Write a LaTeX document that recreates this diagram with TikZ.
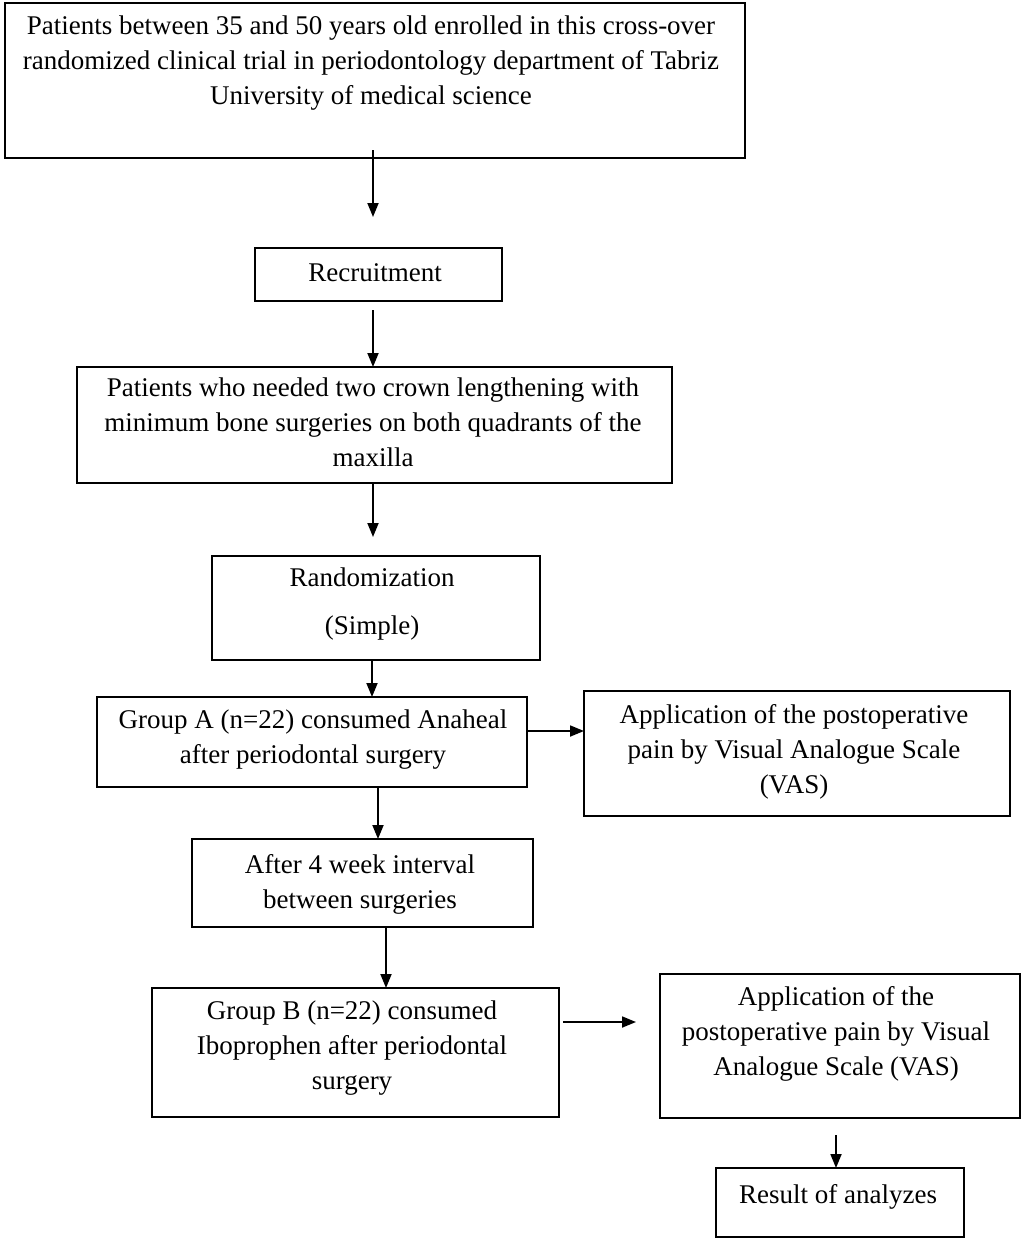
\documentclass[tikz,border=0pt]{standalone}
\usepackage{fontspec}
\setmainfont{Liberation Serif}
\usetikzlibrary{arrows.meta}
\begin{document}
\begin{tikzpicture}[x=1pt,y=-1pt,
  boxn/.style={draw, line width=2.2pt, inner sep=0pt, outer sep=0pt, anchor=north west},
  txt/.style={align=center, font=\fontsize{27}{35}\selectfont, inner sep=0pt},
  arr/.style={line width=1.8pt, -{Triangle[length=14pt,width=11pt]}}]
\useasboundingbox (0,0) rectangle (1022,1239);
\fill[white] (0,0) rectangle (1022,1239);
% boxes
\node[boxn, minimum width=740pt, minimum height=155pt] (b1) at (5,3) {};
\node[boxn, minimum width=247pt, minimum height=53pt] (b2) at (255,248) {};
\node[boxn, minimum width=595pt, minimum height=116pt] (b3) at (77,367) {};
\node[boxn, minimum width=328pt, minimum height=104pt] (b4) at (212,556) {};
\node[boxn, minimum width=430pt, minimum height=90pt] (b5) at (97,697) {};
\node[boxn, minimum width=426pt, minimum height=125pt] (b6) at (584,691) {};
\node[boxn, minimum width=341pt, minimum height=88pt] (b7) at (192,839) {};
\node[boxn, minimum width=407pt, minimum height=129pt] (b8) at (152,988) {};
\node[boxn, minimum width=360pt, minimum height=144pt] (b9) at (660,974) {};
\node[boxn, minimum width=248pt, minimum height=69pt] (b10) at (716,1168) {};
% texts
\node[txt] (t1) at (371,63) {Patients between 35 and 50 years old enrolled in this cross-over\\randomized clinical trial in periodontology department of Tabriz\\University of medical science};
\node[txt] (t2) at (375,273) {Recruitment};
\node[txt] (t3) at (373,422) {Patients who needed two crown lengthening with\\minimum bone surgeries on both quadrants of the\\maxilla};
\node[txt] (t4a) at (372,577) {Randomization};
\node[txt] (t4b) at (372,628) {(Simple)};
\node[txt] (t5) at (313,740) {Group A (n=22) consumed Anaheal\\after periodontal surgery};
\node[txt] (t6) at (794,752) {Application of the postoperative\\pain by Visual Analogue Scale\\(VAS)};
\node[txt] (t7) at (360,884) {After 4 week interval\\between surgeries};
\node[txt] (t8) at (352,1048) {Group B (n=22) consumed\\Iboprophen after periodontal\\surgery};
\node[txt] (t9) at (836,1034) {Application of the\\postoperative pain by Visual\\Analogue Scale (VAS)};
\node[txt] (t10) at (838,1197) {Result of analyzes};
% free ends
\coordinate (c1) at (373,217);
\coordinate (c3) at (373,537);
\coordinate (c8) at (636,1022);
% arrows
\draw[arr] ([xshift=-2pt,yshift=8pt]b1.south) -- (c1);
\draw[arr] ([xshift=-5.5pt,yshift=-9pt]b2.south) -- ([xshift=-1.5pt]b3.north);
\draw[arr] ([xshift=-1.5pt]b3.south) -- (c3);
\draw[arr] ([xshift=-4pt]b4.south) -- ([xshift=60pt]b5.north);
\draw[arr] ([yshift=11pt]b5.east) -- ([yshift=22.5pt]b6.west);
\draw[arr] ([xshift=66pt]b5.south) -- ([xshift=15.5pt]b7.north);
\draw[arr] ([xshift=23.5pt]b7.south) -- ([xshift=30.5pt]b8.north);
\draw[arr] ([xshift=4pt,yshift=30.5pt]b8.east) -- (c8);
\draw[arr] ([xshift=-4pt,yshift=-17pt]b9.south) -- ([xshift=-4pt]b10.north);
\end{tikzpicture}
\end{document}
